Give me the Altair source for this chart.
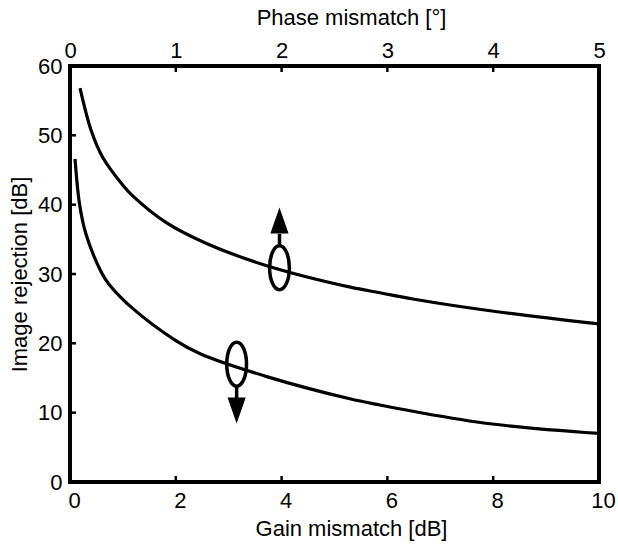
import altair as alt
import pandas as pd

# ---- data ----
gain_mismatch_db = [0.095, 0.18, 0.30, 0.59, 0.74, 1.19, 2.0, 2.46, 3.72, 5.29, 5.86, 6.48, 7.94, 10.0]
gain_rejection_db = [46.6, 40.1, 35.8, 30.3, 28.5, 25.0, 20.4, 18.5, 15.2, 12.0, 11.1, 10.2, 8.4, 7.0]

phase_mismatch_deg = [0.095, 0.20, 0.31, 0.50, 0.59, 0.91, 1.29, 1.86, 2.65, 2.93, 3.24, 3.97, 5.0]
phase_rejection_db = [56.8, 50.7, 46.8, 42.8, 41.3, 37.4, 34.4, 31.2, 28.1, 27.3, 26.4, 24.7, 22.8]

gain_tick_values = [0, 2, 4, 6, 8, 10]
phase_tick_values = [0, 1, 2, 3, 4, 5]
y_tick_values = [0, 10, 20, 30, 40, 50, 60]

gain_inner_ticks = [2, 4, 6, 8]
phase_inner_ticks = [1, 2, 3, 4]
y_inner_ticks = [10, 20, 30, 40, 50]

# annotation markers (ellipse + arrow), in gain / rejection units
marker_gain = [3.96, 3.15]
marker_level = [30.9, 17.0]
arrow_dir = ["up", "down"]
arrow_start = [34.1, 13.8]
arrow_end = [35.8, 12.1]
arrow_head = [37.7, 10.3]

FONT = "Liberation Sans"
ELLIPSE = "M0,-1A0.45,1,0,1,1,0,1A0.45,1,0,1,1,0,-1Z"
TRI_UP = "M0,-1L0.7,1L-0.7,1Z"
TRI_DOWN = "M0,1L0.7,-1L-0.7,-1Z"

gain_df = pd.DataFrame({"gain": gain_mismatch_db, "irr": gain_rejection_db})
phase_df = pd.DataFrame({"phase": phase_mismatch_deg, "irr": phase_rejection_db})
marker_df = pd.DataFrame({"gain": marker_gain, "level": marker_level})
arrow_df = pd.DataFrame({"gain": marker_gain, "start": arrow_start, "end": arrow_end,
                         "head": arrow_head, "dir": arrow_dir})


def gain_scale():
    return alt.Scale(domain=[0, 10], nice=False, zero=False)


def phase_scale():
    return alt.Scale(domain=[0, 5], nice=False, zero=False)


def y_scale():
    return alt.Scale(domain=[0, 60], nice=False, zero=False)


y_axis = alt.Axis(title="Image rejection [dB]", values=y_tick_values, format="d",
                  orient="left", labelPadding=8, titlePadding=6)
gain_axis = alt.Axis(title="Gain mismatch [dB]", values=gain_tick_values, format="d",
                     orient="bottom", labelPadding=8, titlePadding=7,
                     labelFlush=False, labelOffset=4, titleX=281)
phase_axis = alt.Axis(title="Phase mismatch [°]", values=phase_tick_values, format="d",
                      orient="top", labelPadding=4, titlePadding=10,
                      labelFlush=False, titleX=281)

gain_line = alt.Chart(gain_df).mark_line(
    color="black", strokeWidth=3.2, interpolate="catmull-rom"
).encode(
    x=alt.X("gain:Q", scale=gain_scale(), axis=gain_axis),
    y=alt.Y("irr:Q", scale=y_scale(), axis=y_axis),
)

phase_line = alt.Chart(phase_df).mark_line(
    color="black", strokeWidth=3.2, interpolate="catmull-rom"
).encode(
    x=alt.X("phase:Q", scale=phase_scale(), axis=phase_axis),
    y=alt.Y("irr:Q", scale=y_scale(), axis=None),
)

gain_ticks_chart = alt.Chart(pd.DataFrame({"g": gain_inner_ticks, "y0": [0] * 4})).mark_tick(
    orient="vertical", size=12, thickness=2.5, color="black", opacity=1, clip=True
).encode(
    x=alt.X("g:Q", scale=gain_scale(), axis=None),
    y=alt.Y("y0:Q", scale=y_scale(), axis=None),
)

phase_ticks_chart = alt.Chart(pd.DataFrame({"p": phase_inner_ticks, "y1": [60] * 4})).mark_tick(
    orient="vertical", size=12, thickness=2.5, color="black", opacity=1, clip=True
).encode(
    x=alt.X("p:Q", scale=phase_scale(), axis=None),
    y=alt.Y("y1:Q", scale=y_scale(), axis=None),
)

y_ticks_chart = alt.Chart(pd.DataFrame({"v": y_inner_ticks, "x0": [0] * 5})).mark_tick(
    orient="horizontal", size=12, thickness=2.5, color="black", opacity=1, clip=True
).encode(
    x=alt.X("x0:Q", scale=gain_scale(), axis=None),
    y=alt.Y("v:Q", scale=y_scale(), axis=None),
)

ellipses = alt.Chart(marker_df).mark_point(
    shape=ELLIPSE, size=1936, filled=False, color="black", strokeWidth=3.5, opacity=1
).encode(
    x=alt.X("gain:Q", scale=gain_scale(), axis=None),
    y=alt.Y("level:Q", scale=y_scale(), axis=None),
)

shafts = alt.Chart(arrow_df).mark_rule(color="black", strokeWidth=3.5).encode(
    x=alt.X("gain:Q", scale=gain_scale(), axis=None),
    y=alt.Y("start:Q", scale=y_scale(), axis=None),
    y2="end:Q",
)

heads = alt.Chart(arrow_df).mark_point(
    filled=True, size=676, color="black", opacity=1, strokeWidth=0
).encode(
    x=alt.X("gain:Q", scale=gain_scale(), axis=None),
    y=alt.Y("head:Q", scale=y_scale(), axis=None),
    shape=alt.Shape("dir:N", scale=alt.Scale(domain=["up", "down"], range=[TRI_UP, TRI_DOWN]),
                    legend=None),
)

chart = alt.layer(
    gain_line, phase_line, gain_ticks_chart, phase_ticks_chart, y_ticks_chart,
    ellipses, shafts, heads
).resolve_scale(
    x="independent", y="independent"
).properties(
    width=529, height=416,
    padding={"left": 70, "top": 66, "right": 19, "bottom": 62},
    autosize=alt.AutoSizeParams(type="none"),
    background="white",
).configure_view(
    stroke="black", strokeWidth=4
).configure_axis(
    domain=False, ticks=False, grid=False,
    labelFont=FONT, labelFontSize=22, labelColor="black",
    titleFont=FONT, titleFontSize=22, titleColor="black", titleFontWeight="normal",
)

chart.save("out.html", embed_options={"renderer": "svg", "actions": False})
